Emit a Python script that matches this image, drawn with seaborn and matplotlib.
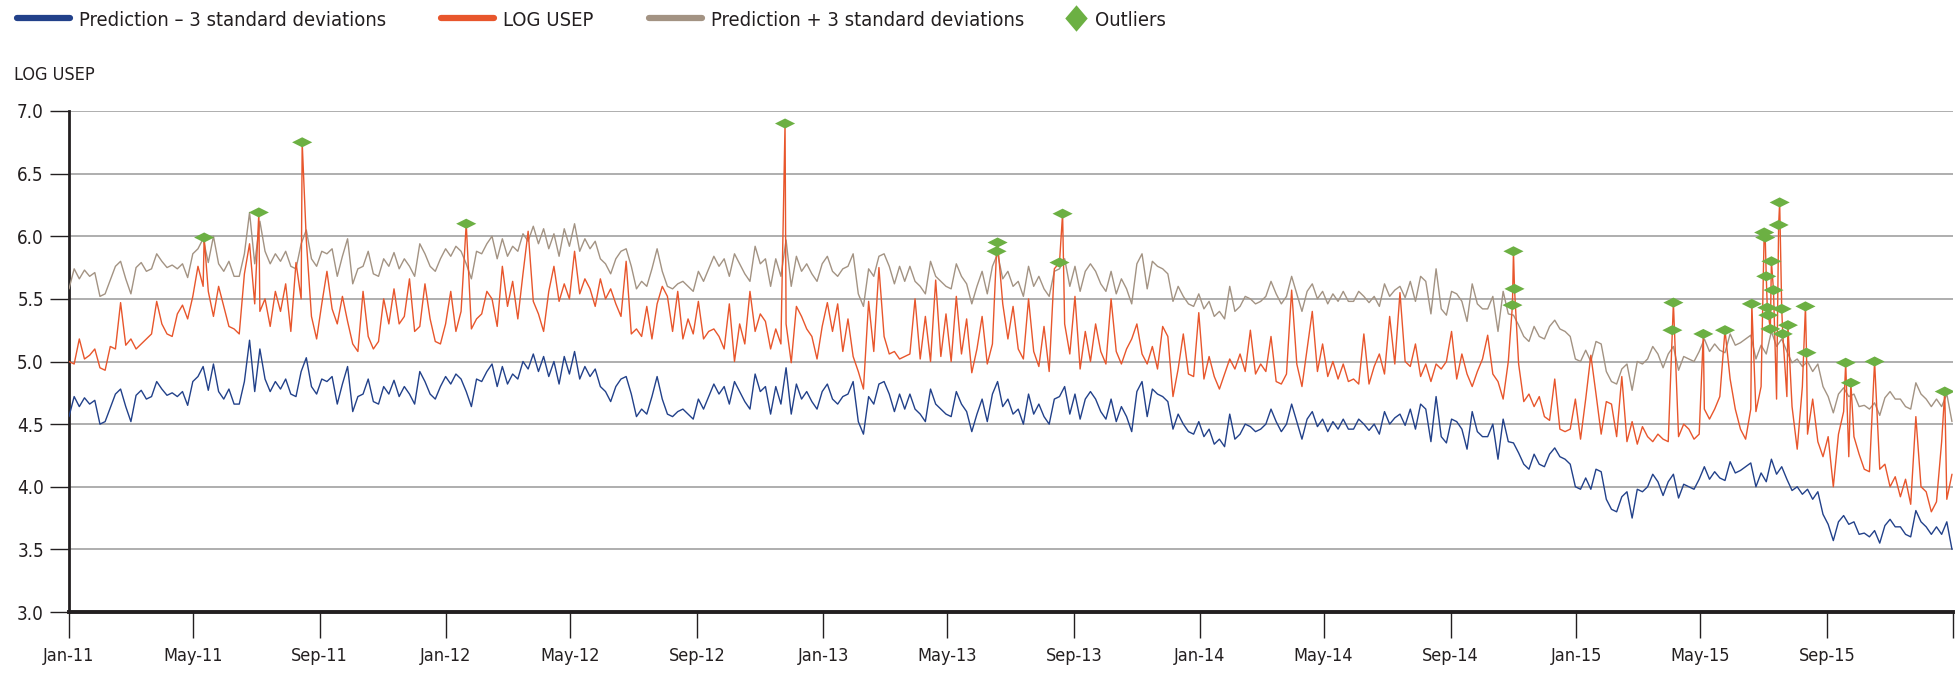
import numpy as np
import pandas as pd
import matplotlib
matplotlib.use("Agg")
import matplotlib.pyplot as plt
import matplotlib.font_manager as fm
from matplotlib.path import Path
from matplotlib.lines import Line2D
import seaborn as sns

# ---------------- data (5-day steps from 1 Jan 2011) ----------------
start_date = "2011-01-01"
step = "5D"

pred_minus_3sd = [
    4.56, 4.72, 4.64, 4.71, 4.66, 4.69, 4.50, 4.52, 4.63, 4.74,
    4.78, 4.64, 4.52, 4.73, 4.77, 4.70, 4.72, 4.84, 4.78, 4.73,
    4.75, 4.72, 4.76, 4.65, 4.84, 4.88, 4.96, 4.77, 4.98, 4.76,
    4.70, 4.78, 4.66, 4.66, 4.84, 5.17, 4.76, 5.10, 4.86, 4.76,
    4.84, 4.78, 4.86, 4.74, 4.72, 4.92, 5.03, 4.80, 4.74, 4.86,
    4.84, 4.88, 4.66, 4.82, 4.96, 4.60, 4.72, 4.74, 4.86, 4.68,
    4.66, 4.80, 4.74, 4.85, 4.72, 4.80, 4.74, 4.66, 4.92, 4.84,
    4.74, 4.70, 4.80, 4.88, 4.82, 4.90, 4.86, 4.76, 4.64, 4.86,
    4.84, 4.92, 4.98, 4.80, 4.96, 4.82, 4.90, 4.86, 5.00, 4.94,
    5.06, 4.92, 5.04, 4.88, 5.00, 4.82, 5.04, 4.90, 5.08, 4.86,
    4.96, 4.88, 4.94, 4.80, 4.76, 4.68, 4.80, 4.86, 4.88, 4.74,
    4.56, 4.62, 4.58, 4.72, 4.88, 4.70, 4.58, 4.56, 4.60, 4.62,
    4.58, 4.54, 4.70, 4.62, 4.72, 4.82, 4.74, 4.80, 4.66, 4.84,
    4.76, 4.68, 4.62, 4.90, 4.76, 4.80, 4.58, 4.80, 4.66, 4.95,
    4.58, 4.82, 4.70, 4.76, 4.68, 4.62, 4.76, 4.82, 4.70, 4.66,
    4.72, 4.74, 4.84, 4.52, 4.42, 4.72, 4.66, 4.82, 4.84, 4.74,
    4.60, 4.74, 4.62, 4.74, 4.62, 4.58, 4.52, 4.78, 4.66, 4.62,
    4.58, 4.56, 4.76, 4.66, 4.60, 4.44, 4.58, 4.70, 4.52, 4.74,
    4.84, 4.64, 4.70, 4.58, 4.62, 4.50, 4.74, 4.58, 4.66, 4.56,
    4.50, 4.70, 4.72, 4.80, 4.58, 4.74, 4.54, 4.70, 4.76, 4.70,
    4.60, 4.54, 4.70, 4.52, 4.64, 4.56, 4.44, 4.76, 4.84, 4.56,
    4.78, 4.74, 4.72, 4.68, 4.46, 4.58, 4.50, 4.44, 4.42, 4.52,
    4.40, 4.46, 4.34, 4.38, 4.32, 4.58, 4.38, 4.42, 4.50, 4.48,
    4.44, 4.46, 4.50, 4.62, 4.52, 4.44, 4.50, 4.66, 4.52, 4.38,
    4.54, 4.60, 4.48, 4.54, 4.44, 4.52, 4.46, 4.54, 4.46, 4.46,
    4.54, 4.50, 4.45, 4.50, 4.42, 4.60, 4.50, 4.55, 4.58, 4.49,
    4.62, 4.46, 4.66, 4.62, 4.36, 4.72, 4.40, 4.35, 4.54, 4.52,
    4.46, 4.30, 4.60, 4.44, 4.40, 4.40, 4.50, 4.22, 4.54, 4.36,
    4.35, 4.27, 4.18, 4.14, 4.26, 4.18, 4.16, 4.26, 4.31, 4.24,
    4.22, 4.18, 4.00, 3.98, 4.07, 3.98, 4.14, 4.12, 3.90, 3.82,
    3.80, 3.92, 3.96, 3.75, 3.98, 3.96, 4.00, 4.10, 4.04, 3.93,
    4.04, 4.10, 3.91, 4.02, 4.00, 3.98, 4.06, 4.16, 4.06, 4.12,
    4.07, 4.05, 4.20, 4.11, 4.13, 4.16, 4.19, 4.00, 4.11, 4.04,
    4.22, 4.10, 4.16, 4.06, 3.97, 4.00, 3.94, 3.98, 3.90, 3.96,
    3.78, 3.70, 3.57, 3.72, 3.77, 3.70, 3.72, 3.62, 3.63, 3.60,
    3.65, 3.55, 3.69, 3.74, 3.68, 3.68, 3.62, 3.60, 3.81, 3.72,
    3.68, 3.62, 3.68, 3.62, 3.72, 3.50,
]

pred_plus_3sd = [
    5.58, 5.74, 5.66, 5.73, 5.68, 5.71, 5.52, 5.54, 5.65, 5.76,
    5.80, 5.66, 5.54, 5.75, 5.79, 5.72, 5.74, 5.86, 5.80, 5.75,
    5.77, 5.74, 5.78, 5.67, 5.86, 5.90, 5.98, 5.79, 6.00, 5.78,
    5.72, 5.80, 5.68, 5.68, 5.86, 6.19, 5.78, 6.12, 5.88, 5.78,
    5.86, 5.80, 5.88, 5.76, 5.74, 5.94, 6.05, 5.82, 5.76, 5.88,
    5.86, 5.90, 5.68, 5.84, 5.98, 5.62, 5.74, 5.76, 5.88, 5.70,
    5.68, 5.82, 5.76, 5.87, 5.74, 5.82, 5.76, 5.68, 5.94, 5.86,
    5.76, 5.72, 5.82, 5.90, 5.84, 5.92, 5.88, 5.78, 5.66, 5.88,
    5.86, 5.94, 6.00, 5.82, 5.98, 5.84, 5.92, 5.88, 6.02, 5.96,
    6.08, 5.94, 6.06, 5.90, 6.02, 5.84, 6.06, 5.92, 6.10, 5.88,
    5.98, 5.90, 5.96, 5.82, 5.78, 5.70, 5.82, 5.88, 5.90, 5.76,
    5.58, 5.64, 5.60, 5.74, 5.90, 5.72, 5.60, 5.58, 5.62, 5.64,
    5.60, 5.56, 5.72, 5.64, 5.74, 5.84, 5.76, 5.82, 5.68, 5.86,
    5.78, 5.70, 5.64, 5.92, 5.78, 5.82, 5.60, 5.82, 5.68, 5.97,
    5.60, 5.84, 5.72, 5.78, 5.70, 5.64, 5.78, 5.84, 5.72, 5.68,
    5.74, 5.76, 5.86, 5.54, 5.44, 5.74, 5.68, 5.84, 5.86, 5.76,
    5.62, 5.76, 5.64, 5.76, 5.64, 5.60, 5.54, 5.80, 5.68, 5.64,
    5.60, 5.58, 5.78, 5.68, 5.62, 5.46, 5.60, 5.72, 5.54, 5.76,
    5.86, 5.66, 5.72, 5.60, 5.64, 5.52, 5.76, 5.60, 5.68, 5.58,
    5.52, 5.72, 5.74, 5.82, 5.60, 5.76, 5.56, 5.72, 5.78, 5.72,
    5.62, 5.56, 5.72, 5.54, 5.66, 5.58, 5.46, 5.78, 5.86, 5.58,
    5.80, 5.76, 5.74, 5.70, 5.48, 5.60, 5.52, 5.46, 5.44, 5.54,
    5.42, 5.48, 5.36, 5.40, 5.34, 5.60, 5.40, 5.44, 5.52, 5.50,
    5.46, 5.48, 5.52, 5.64, 5.54, 5.46, 5.52, 5.68, 5.54, 5.40,
    5.56, 5.62, 5.50, 5.56, 5.46, 5.54, 5.48, 5.56, 5.48, 5.48,
    5.56, 5.52, 5.47, 5.52, 5.44, 5.62, 5.52, 5.57, 5.60, 5.51,
    5.64, 5.48, 5.68, 5.64, 5.38, 5.74, 5.42, 5.37, 5.56, 5.54,
    5.48, 5.32, 5.62, 5.46, 5.42, 5.42, 5.52, 5.24, 5.56, 5.38,
    5.37, 5.29, 5.20, 5.16, 5.28, 5.20, 5.18, 5.28, 5.33, 5.26,
    5.24, 5.20, 5.02, 5.00, 5.09, 5.00, 5.16, 5.14, 4.92, 4.84,
    4.82, 4.94, 4.98, 4.77, 5.00, 4.98, 5.02, 5.12, 5.06, 4.95,
    5.06, 5.12, 4.93, 5.04, 5.02, 5.00, 5.08, 5.18, 5.08, 5.14,
    5.09, 5.07, 5.22, 5.13, 5.15, 5.18, 5.21, 5.02, 5.13, 5.06,
    5.24, 5.12, 5.18, 5.08, 4.99, 5.02, 4.96, 5.00, 4.92, 4.98,
    4.80, 4.72, 4.59, 4.74, 4.79, 4.72, 4.74, 4.64, 4.65, 4.62,
    4.67, 4.57, 4.71, 4.76, 4.70, 4.70, 4.64, 4.62, 4.83, 4.74,
    4.70, 4.64, 4.70, 4.64, 4.74, 4.52,
]

log_usep = [
    5.00, 4.98, 5.18, 5.02, 5.05, 5.10, 4.95, 4.93, 5.12, 5.10,
    5.47, 5.13, 5.18, 5.10, 5.14, 5.18, 5.22, 5.48, 5.30, 5.22,
    5.20, 5.38, 5.45, 5.34, 5.52, 5.76, 5.60, 5.56, 5.36, 5.60,
    5.44, 5.28, 5.26, 5.22, 5.70, 5.94, 5.46, 5.40, 5.50, 5.28,
    5.56, 5.40, 5.62, 5.24, 5.79, 5.50, 5.97, 5.36, 5.18, 5.46,
    5.72, 5.42, 5.30, 5.52, 5.32, 5.14, 5.08, 5.56, 5.20, 5.10,
    5.16, 5.50, 5.30, 5.58, 5.30, 5.36, 5.66, 5.24, 5.28, 5.62,
    5.34, 5.16, 5.14, 5.30, 5.56, 5.24, 5.40, 5.30, 5.26, 5.34,
    5.38, 5.56, 5.50, 5.28, 5.76, 5.44, 5.64, 5.34, 5.70, 6.04,
    5.48, 5.38, 5.24, 5.56, 5.76, 5.48, 5.62, 5.50, 5.88, 5.54,
    5.66, 5.58, 5.44, 5.66, 5.50, 5.58, 5.46, 5.36, 5.80, 5.22,
    5.26, 5.20, 5.44, 5.18, 5.46, 5.60, 5.52, 5.24, 5.56, 5.18,
    5.34, 5.22, 5.48, 5.18, 5.24, 5.26, 5.20, 5.10, 5.46, 5.00,
    5.30, 5.14, 5.56, 5.24, 5.38, 5.32, 5.10, 5.26, 5.14, 5.30,
    4.99, 5.44, 5.36, 5.26, 5.20, 5.02, 5.28, 5.47, 5.24, 5.46,
    5.08, 5.34, 5.04, 4.92, 4.78, 5.48, 5.08, 5.75, 5.20, 5.06,
    5.08, 5.02, 5.04, 5.06, 5.50, 5.02, 5.36, 5.00, 5.65, 5.04,
    5.38, 5.00, 5.52, 5.06, 5.34, 4.91, 5.10, 5.36, 4.98, 5.14,
    5.40, 5.46, 5.18, 5.44, 5.10, 5.02, 5.50, 5.08, 4.96, 5.28,
    4.92, 5.74, 5.20, 5.30, 5.06, 5.52, 4.94, 5.24, 5.00, 5.30,
    5.08, 4.98, 5.50, 5.08, 4.98, 5.10, 5.18, 5.30, 5.06, 4.98,
    5.12, 4.94, 5.28, 5.20, 4.72, 4.94, 5.22, 4.90, 4.88, 5.39,
    4.86, 5.04, 4.88, 4.78, 4.90, 5.02, 4.94, 5.06, 4.92, 5.25,
    4.90, 4.98, 4.92, 5.20, 4.84, 4.82, 4.90, 5.57, 4.98, 4.80,
    5.10, 5.40, 4.92, 5.14, 4.88, 5.00, 4.86, 4.98, 4.84, 4.86,
    4.82, 5.22, 4.82, 4.96, 5.06, 4.90, 5.36, 4.98, 5.55, 5.00,
    4.96, 5.14, 4.88, 4.98, 4.84, 4.98, 4.94, 5.00, 5.24, 4.86,
    5.06, 4.90, 4.80, 4.92, 5.02, 5.21, 4.90, 4.84, 4.70, 5.00,
    5.00, 4.98, 4.68, 4.74, 4.64, 4.72, 4.56, 4.53, 4.86, 4.46,
    4.44, 4.46, 4.70, 4.38, 4.70, 5.05, 4.74, 4.42, 4.68, 4.66,
    4.40, 4.88, 4.36, 4.52, 4.34, 4.48, 4.40, 4.36, 4.42, 4.38,
    4.36, 4.62, 4.40, 4.50, 4.46, 4.38, 4.42, 4.62, 4.54, 4.62,
    4.72, 4.52, 4.86, 4.62, 4.46, 4.38, 4.62, 4.60, 4.80, 5.10,
    4.90, 4.70, 5.20, 4.72, 4.64, 4.30, 4.80, 4.42, 4.70, 4.36,
    4.24, 4.40, 4.00, 4.42, 4.60, 4.24, 4.40, 4.26, 4.14, 4.12,
    4.30, 4.14, 4.18, 4.00, 4.08, 3.92, 4.06, 3.86, 4.56, 4.00,
    3.96, 3.80, 3.88, 4.36, 3.90, 4.10,
]

# Outliers: days after 1 Jan 2011 and LOG USEP value (also points of the LOG USEP line)
outlier_day_offset = [131, 184, 226, 385, 694, 899, 900, 960, 963,
                      1399, 1400, 1401, 1554, 1555, 1584, 1605, 1631,
                      1643, 1644, 1645, 1646, 1647, 1649, 1650, 1652,
                      1657, 1658, 1660, 1661, 1666, 1683, 1684,
                      1722, 1727, 1750, 1818]
outlier_value = [5.99, 6.19, 6.75, 6.10, 6.90, 5.88, 5.95, 5.79, 6.18,
                 5.45, 5.88, 5.58, 5.25, 5.47, 5.22, 5.25, 5.46,
                 6.03, 5.99, 5.68, 5.43, 5.37, 5.26, 5.80, 5.57,
                 6.09, 6.27, 5.42, 5.22, 5.29, 5.44, 5.07,
                 4.99, 4.83, 5.00, 4.76]

series_labels = ["Prediction \u2013 3 standard deviations", "LOG USEP",
                 "Prediction + 3 standard deviations", "Outliers"]
y_ticks = [3.0, 3.5, 4.0, 4.5, 5.0, 5.5, 6.0, 6.5, 7.0]
y_title = "LOG USEP"

# ---------------- build tables ----------------
grid_dates = pd.date_range(start_date, periods=len(pred_minus_3sd), freq=step)
band = pd.DataFrame({"date": grid_dates, "lower": pred_minus_3sd, "upper": pred_plus_3sd})
out_dates = pd.Timestamp(start_date) + pd.to_timedelta(outlier_day_offset, unit="D")
outliers = pd.DataFrame({"date": out_dates, "value": outlier_value})
red = pd.concat([pd.DataFrame({"date": pd.date_range(start_date, periods=len(log_usep), freq=step),
                               "value": log_usep}), outliers])
red = red.drop_duplicates("date", keep="last").sort_values("date").reset_index(drop=True)

# ---------------- style ----------------
BLUE = "#22418a"
RED = "#e8562c"
BROWN = "#a39383"
GREEN = "#6cb043"
GRID = "#a8a8a8"
TXT = "#231f20"

sns.set_theme(style="white")

# pick a narrow sans face if one is installed (reference uses a condensed face)
family, stretch, fs = "Roboto", "normal", 0.90
names = [(f.name, f.stretch) for f in fm.fontManager.ttflist]
if any(n == "Liberation Sans Narrow" for n, _ in names):
    family, stretch, fs = "Liberation Sans Narrow", "normal", 1.0
else:
    for fam in ["DejaVu Sans", "Noto Sans", "Open Sans", "Roboto"]:
        if any(n == fam and s in ("condensed", "semi-condensed") for n, s in names):
            family = fam
            stretch = [s for n, s in names if n == fam and s in ("condensed", "semi-condensed")][0]
            fs = 1.0
            break
plt.rcParams["font.family"] = [family, "DejaVu Sans"]
plt.rcParams["font.stretch"] = stretch
plt.rcParams["text.color"] = TXT

W, H = 1957, 674
fig = plt.figure(figsize=(W / 100, H / 100), dpi=100)
ax = fig.add_axes([69 / W, 1 - 612 / H, (1953 - 69) / W, (612 - 111) / H])

sns.lineplot(data=band, x="date", y="lower", ax=ax, color=BLUE, linewidth=1.0, estimator=None, zorder=3)
sns.lineplot(data=band, x="date", y="upper", ax=ax, color=BROWN, linewidth=1.0, estimator=None, zorder=3)
sns.lineplot(data=red, x="date", y="value", ax=ax, color=RED, linewidth=1.0, estimator=None, zorder=4)

wide_diamond = Path([(-1, 0), (0, 0.5), (1, 0), (0, -0.5), (-1, 0)],
                    [Path.MOVETO, Path.LINETO, Path.LINETO, Path.LINETO, Path.CLOSEPOLY])
sns.scatterplot(data=outliers, x="date", y="value", ax=ax, marker=wide_diamond, s=210,
                color=GREEN, edgecolor="none", linewidth=0, zorder=6)

ax.set_xlim(pd.Timestamp("2011-01-01"), pd.Timestamp("2016-01-01"))
ax.set_ylim(3.0, 7.0)
ax.set_xlabel("")
ax.set_ylabel("")

tick_dates = pd.date_range("2011-01-01", "2016-01-01", freq="4MS")
ax.set_xticks(tick_dates)
ax.set_xticklabels([d.strftime("%b-%y") for d in tick_dates[:-1]] + [""])
ax.set_yticks(y_ticks)
ax.set_yticklabels([f"{v:.1f}" for v in y_ticks])

ax.tick_params(axis="x", bottom=True, length=19, width=1.0, color=TXT, pad=6,
               labelsize=13 * fs, labelcolor=TXT)
ax.tick_params(axis="y", left=True, length=14, width=1.0, color=TXT, pad=4,
               labelsize=13.5 * fs, labelcolor=TXT)

ax.yaxis.grid(True, color=GRID, linewidth=1.3)
ax.xaxis.grid(False)
ax.set_axisbelow(True)
for s in ["top", "right"]:
    ax.spines[s].set_visible(False)
ax.spines["left"].set_color(TXT)
ax.spines["left"].set_linewidth(2.0)
ax.spines["bottom"].set_color(TXT)
ax.spines["bottom"].set_linewidth(2.8)

fig.text(14 / W, 1 - 75 / H, y_title, ha="left", va="center", fontsize=13 * fs, color=TXT)

# legend: three line entries, then the outlier marker entry placed just after them
leg_fs = 14.5 * fs
line_handles = [Line2D([], [], color=c, linewidth=4.5) for c in (BLUE, RED, BROWN)]
fig.legend(line_handles, series_labels[:3], loc="center left", bbox_to_anchor=(17 / W, 1 - 20 / H),
           ncol=3, frameon=False, fontsize=leg_fs, handlelength=38 / leg_fs,
           handletextpad=6.5 / leg_fs, columnspacing=40 / leg_fs,
           borderaxespad=0, borderpad=0.0)

tall_diamond = Path([(0, 1), (0.85, 0), (0, -1), (-0.85, 0), (0, 1)],
                    [Path.MOVETO, Path.LINETO, Path.LINETO, Path.LINETO, Path.CLOSEPOLY])
marker_handle = Line2D([], [], linestyle="none", marker=tall_diamond, markersize=19,
                       markerfacecolor=GREEN, markeredgewidth=0)
fig.legend([marker_handle], series_labels[3:], loc="center left",
           bbox_to_anchor=(1066 / W, 1 - 20 / H), ncol=1, frameon=False, fontsize=leg_fs,
           handlelength=15 / leg_fs, handletextpad=6 / leg_fs,
           borderaxespad=0, borderpad=0.0)

fig.savefig("out.png", dpi=100)
